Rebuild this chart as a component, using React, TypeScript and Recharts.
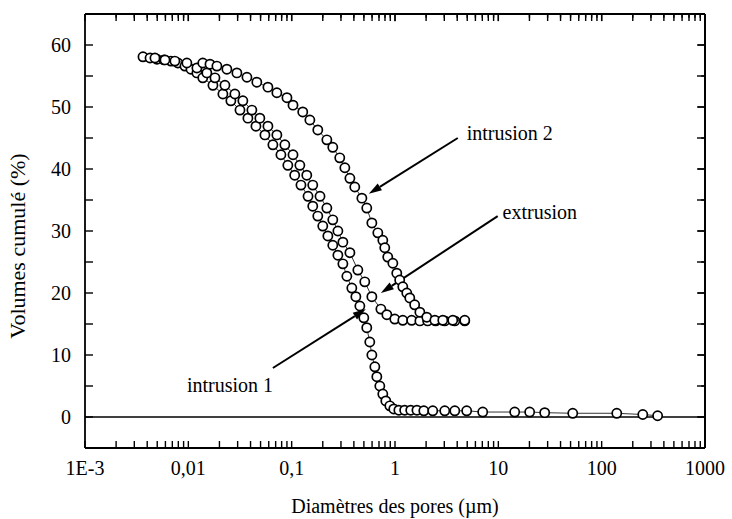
import { ScatterChart, Scatter, XAxis, YAxis, ReferenceLine, ReferenceDot } from 'recharts';

// Diameters (µm) and cumulated volumes (%)
const INTRUSION1_D = [0.00364, 0.00426, 0.00497, 0.00581, 0.00679, 0.00793, 0.00927, 0.0106, 0.0121, 0.0138, 0.0173, 0.0216, 0.0258, 0.0316, 0.0377, 0.0451, 0.0551, 0.0658, 0.0787, 0.0918, 0.107, 0.123, 0.144, 0.16, 0.179, 0.2, 0.224, 0.25, 0.28, 0.313, 0.342, 0.382, 0.418, 0.457, 0.499, 0.533, 0.57, 0.597, 0.638, 0.667, 0.713, 0.762, 0.815, 0.891, 0.973, 1.09, 1.24, 1.42, 1.63, 1.9, 2.32, 3.03, 3.79, 4.94, 7.06, 14.4, 20.1, 28.1, 52.5, 140, 250, 348];
const INTRUSION1_V = [58.1, 57.9, 57.7, 57.6, 57.4, 57.1, 56.6, 56.1, 55.5, 54.7, 53.5, 52.1, 51.0, 49.5, 48.2, 46.9, 45.5, 43.9, 42.3, 40.6, 39.0, 37.4, 35.6, 34.0, 32.4, 30.8, 29.2, 27.7, 26.1, 24.7, 22.7, 20.8, 19.4, 17.9, 16.0, 14.4, 12.1, 10.0, 8.1, 6.5, 5.0, 3.7, 2.6, 1.8, 1.3, 1.1, 1.1, 1.1, 1.1, 1.0, 1.0, 1.0, 1.0, 1.0, 0.8, 0.8, 0.8, 0.7, 0.6, 0.6, 0.4, 0.2];

const EXTRUSION_D = [0.00475, 0.00594, 0.00741, 0.00968, 0.0121, 0.0151, 0.0181, 0.0226, 0.0282, 0.0337, 0.0412, 0.0492, 0.0589, 0.0719, 0.0859, 0.103, 0.12, 0.14, 0.16, 0.188, 0.219, 0.25, 0.28, 0.313, 0.366, 0.437, 0.51, 0.597, 0.73, 0.834, 0.995, 1.19, 1.45, 1.74, 2.07, 2.48, 3.03, 3.79, 4.73];
const EXTRUSION_V = [57.9, 57.6, 57.4, 57.1, 56.3, 55.5, 54.7, 53.5, 52.1, 51.0, 49.5, 48.2, 46.9, 45.5, 43.9, 42.3, 40.6, 39.0, 37.4, 35.6, 33.7, 31.8, 30.0, 28.2, 26.5, 23.7, 21.8, 19.4, 17.4, 16.5, 15.8, 15.6, 15.6, 15.5, 15.5, 15.5, 15.5, 15.5, 15.5];

const INTRUSION2_D = [0.0138, 0.0162, 0.0189, 0.0236, 0.0295, 0.0369, 0.046, 0.0589, 0.0719, 0.09, 0.103, 0.128, 0.15, 0.179, 0.219, 0.25, 0.292, 0.327, 0.366, 0.408, 0.478, 0.533, 0.597, 0.682, 0.762, 0.796, 0.851, 0.953, 1.04, 1.11, 1.19, 1.3, 1.39, 1.55, 1.74, 2.03, 2.43, 2.9, 3.62, 4.73];
const INTRUSION2_V = [57.1, 56.9, 56.6, 56.1, 55.5, 54.8, 54.0, 53.2, 52.3, 51.5, 50.3, 49.2, 47.9, 46.3, 44.7, 43.5, 41.8, 40.2, 38.5, 37.1, 35.3, 33.7, 31.3, 29.7, 28.5, 27.3, 25.8, 24.8, 23.2, 22.1, 21.0, 20.0, 19.2, 18.1, 16.9, 16.1, 15.6, 15.6, 15.6, 15.6];

const X_MIN = 0.001, X_MAX = 1000, Y_MIN = -5, Y_MAX = 65;
const X_MAJOR = [0.001, 0.01, 0.1, 1, 10, 100, 1000];
const X_TICK_LABELS = ['1E-3', '0,01', '0,1', '1', '10', '100', '1000'];
const Y_TICKS = [0, 5, 10, 15, 20, 25, 30, 35, 40, 45, 50, 55, 60];

// annotations: [label, textX, textY, tailX, tailY, headX, headY]
const ANNOTATIONS: [string, number, number, number, number, number, number][] = [
    ['intrusion 2', 4.94, 44.7, 4.05, 45.0, 0.558, 36.0],
    ['extrusion', 11.0, 31.9, 9.86, 32.4, 0.73, 20.0],
    ['intrusion 1', 0.0097, 4.0, 0.0658, 7.9, 0.522, 17.4],
];

const FONT = '"Liberation Serif", "DejaVu Serif", serif';

const toPoints = (d: number[], v: number[]) => d.map((x, i) => ({ d: x, v: v[i] }));
const intrusion1 = toPoints(INTRUSION1_D, INTRUSION1_V);
const extrusion = toPoints(EXTRUSION_D, EXTRUSION_V);
const intrusion2 = toPoints(INTRUSION2_D, INTRUSION2_V);

// log ticks: majors plus 2..9 minors in every decade
const X_TICKS: number[] = [];
X_MAJOR.forEach((m, i) => {
    X_TICKS.push(m);
    if (i < X_MAJOR.length - 1) for (let k = 2; k <= 9; k++) X_TICKS.push(m * k);
});

const majorIndex = (v: number) => X_MAJOR.findIndex(m => Math.abs(Math.log10(m) - Math.log10(v)) < 1e-6);

const BottomLabel = (props: any) => {
    const { x, y, payload } = props;
    const idx = majorIndex(payload.value);
    if (idx < 0) return <g />;
    return (
        <text x={x} y={y + 34} textAnchor="middle" fontSize={20} fontFamily={FONT} fill="#000">{X_TICK_LABELS[idx]}</text>
    );
};

const LeftLabel = (props: any) => {
    const { x, y, payload } = props;
    if (payload.value % 10 !== 0) return <g />;
    return (
        <text x={x - 22} y={y + 7} textAnchor="end" fontSize={20} fontFamily={FONT} fill="#000">{payload.value}</text>
    );
};

const NoLabel = () => <g />;
const NoMark = () => <g />;

const Circle = (p: any) => <circle cx={p.cx} cy={p.cy} r={4.6} fill="#fff" stroke="#000" strokeWidth={1.7} />;

const Arrow = (p: any) => {
    const { x1, y1, x2, y2 } = p;
    const ang = Math.atan2(y2 - y1, x2 - x1);
    const len = 13, half = 4;
    const bx = x2 - len * Math.cos(ang), by = y2 - len * Math.sin(ang);
    const nx = -Math.sin(ang) * half, ny = Math.cos(ang) * half;
    return (
        <g>
            <line x1={x1} y1={y1} x2={bx} y2={by} stroke="#000" strokeWidth={2} />
            <polygon points={`${x2},${y2} ${bx + nx},${by + ny} ${bx - nx},${by - ny}`} fill="#000" />
        </g>
    );
};

const axisLine = { stroke: '#000', strokeWidth: 1.8 };
const tickLine = { stroke: '#000', strokeWidth: 1.4 };
const lineStyle = { stroke: '#000', strokeWidth: 0.8 };

// tick lengths on the top / right frame, in axis units (about 7 px major, 4 px minor)
const TOP_TICK_MAJOR = 1.15, TOP_TICK_MINOR = 0.6;
const RIGHT_TICK_MAJOR = 1.17, RIGHT_TICK_MINOR = 1.09;

export default function App() {
    return (
        <div style={{ position: 'absolute', left: 0, top: 0, background: '#fff' }}>
            <ScatterChart width={732} height={519} margin={{ top: 13, right: 26, bottom: 0, left: 0 }}>
                <XAxis
                    dataKey="d"
                    type="number"
                    scale="log"
                    domain={[X_MIN, X_MAX]}
                    allowDataOverflow
                    ticks={X_TICKS}
                    interval={0}
                    height={71}
                    tickSize={-7}
                    tickMargin={0}
                    tickLine={tickLine}
                    axisLine={axisLine}
                    tick={<BottomLabel />}
                    label={() => (
                        <text x={395} y={513} textAnchor="middle" fontSize={20} fontFamily={FONT} fill="#000">Diamètres des pores (µm)</text>
                    )}
                />
                <XAxis
                    xAxisId="top"
                    orientation="top"
                    dataKey="d"
                    type="number"
                    scale="log"
                    domain={[X_MIN, X_MAX]}
                    allowDataOverflow
                    ticks={X_TICKS}
                    interval={0}
                    height={1}
                    tickSize={-7}
                    tickMargin={0}
                    tickLine={tickLine}
                    axisLine={axisLine}
                    tick={<NoLabel />}
                />
                <YAxis
                    dataKey="v"
                    type="number"
                    domain={[Y_MIN, Y_MAX]}
                    allowDataOverflow
                    ticks={Y_TICKS}
                    interval={0}
                    width={85}
                    tickSize={-8}
                    tickMargin={0}
                    tickLine={tickLine}
                    axisLine={axisLine}
                    tick={<LeftLabel />}
                    label={() => (
                        <text transform="translate(25,246) rotate(-90)" textAnchor="middle" fontSize={22} fontFamily={FONT} fill="#000">Volumes cumulé (%)</text>
                    )}
                />
                <YAxis
                    yAxisId="right"
                    orientation="right"
                    dataKey="v"
                    type="number"
                    domain={[Y_MIN, Y_MAX]}
                    allowDataOverflow
                    ticks={Y_TICKS}
                    interval={0}
                    width={1}
                    tickSize={-8}
                    tickMargin={0}
                    tickLine={tickLine}
                    axisLine={axisLine}
                    tick={<NoLabel />}
                />
                {/* frame: top and right sides */}
                <ReferenceLine y={Y_MAX} stroke="#000" strokeWidth={1.8} ifOverflow="visible" />
                <ReferenceLine x={X_MAX} stroke="#000" strokeWidth={1.8} ifOverflow="visible" />
                <ReferenceLine y={0} stroke="#000" strokeWidth={1.3} />
                {X_TICKS.filter(v => v > X_MIN && v < X_MAX).map(v => (
                    <ReferenceLine
                        key={`xt-${v}`}
                        segment={[{ x: v, y: Y_MAX }, { x: v, y: Y_MAX - (majorIndex(v) >= 0 ? TOP_TICK_MAJOR : TOP_TICK_MINOR) }]}
                        ifOverflow="visible"
                        stroke="#000"
                        strokeWidth={1.4}
                    />
                ))}
                {Y_TICKS.map(v => (
                    <ReferenceLine
                        key={`yr-${v}`}
                        segment={[{ x: X_MAX, y: v }, { x: X_MAX / (v % 10 === 0 ? RIGHT_TICK_MAJOR : RIGHT_TICK_MINOR), y: v }]}
                        ifOverflow="visible"
                        stroke="#000"
                        strokeWidth={1.4}
                    />
                ))}
                {/* invisible series so the top / right axes are drawn */}
                <Scatter data={intrusion2} xAxisId="top" yAxisId="right" isAnimationActive={false} shape={NoMark} legendType="none" />
                <Scatter data={intrusion1} isAnimationActive={false} line={lineStyle} lineType="joint" shape={Circle} />
                <Scatter data={extrusion} isAnimationActive={false} line={lineStyle} lineType="joint" shape={Circle} />
                <Scatter data={intrusion2} isAnimationActive={false} line={lineStyle} lineType="joint" shape={Circle} />
                {ANNOTATIONS.map(([label, , , ax, ay, hx, hy]) => (
                    <ReferenceLine
                        key={`arrow-${label}`}
                        segment={[{ x: ax, y: ay }, { x: hx, y: hy }]}
                        shape={Arrow}
                    />
                ))}
                {ANNOTATIONS.map(([label, tx, ty]) => (
                    <ReferenceDot
                        key={`text-${label}`}
                        x={tx}
                        y={ty}
                        r={0}
                        shape={(p: any) => (
                            <text x={p.cx} y={p.cy} fontSize={20} fontFamily={FONT} fill="#000">{label}</text>
                        )}
                    />
                ))}
            </ScatterChart>
        </div>
    );
}
